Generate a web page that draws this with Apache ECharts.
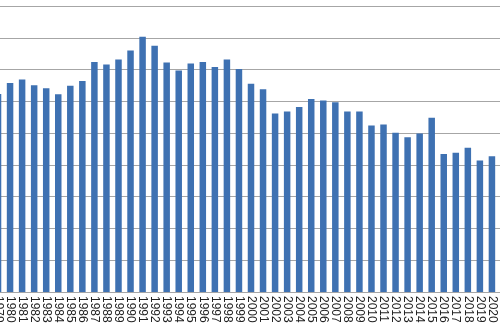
<!DOCTYPE html>
<html>
<head>
<meta charset="utf-8">
<style>html,body{margin:0;padding:0;background:#fff;overflow:hidden;width:500px;height:330px}#c{position:absolute;left:-8px;top:0;width:518px;height:330px}</style>
<script src="https://cdn.jsdelivr.net/npm/echarts@6/dist/echarts.min.js"></script>
</head>
<body>
<div id="c"></div>
<script>
var years = ['1979','1980','1981','1982','1983','1984','1985','1986','1987','1988','1989','1990','1991','1992','1993','1994','1995','1996','1997','1998','1999','2000','2001','2002','2003','2004','2005','2006','2007','2008','2009','2010','2011','2012','2013','2014','2015','2016','2017','2018','2019','2020','2021'];
var values = [62.3,65.8,66.9,65.1,64.1,62.2,64.9,66.4,72.4,71.6,73.2,76.0,80.3,77.5,72.2,69.7,71.9,72.4,70.8,73.2,70.2,65.5,63.8,56.2,56.8,58.2,60.7,60.3,59.7,56.8,56.8,52.4,52.7,50.1,48.7,49.9,54.8,43.4,43.8,45.4,41.4,42.7,null];
var yMin = 0, yMax = 90, yStep = 10;

var chart = echarts.init(document.getElementById('c'), null, {renderer:'canvas'});
chart.setOption({
  animation: false,
  backgroundColor: '#ffffff',
  grid: {left: 0, right: 0, top: 6, bottom: 38, containLabel: false},
  xAxis: {
    type: 'category',
    data: years,
    axisLine: {show: true, lineStyle: {color: '#a6a6a6', width: 1}},
    axisTick: {show: false},
    axisLabel: {interval: 0, rotate: -90, margin: 4, fontSize: 12, fontFamily: 'Liberation Sans', color: '#222'}
  },
  yAxis: {
    type: 'value',
    min: yMin, max: yMax, interval: yStep,
    axisLabel: {show: false},
    axisLine: {show: false},
    axisTick: {show: false},
    splitLine: {show: true, lineStyle: {color: '#a6a6a6', width: 1}}
  },
  series: [{
    type: 'bar',
    data: values,
    barWidth: 6.5,
    itemStyle: {color: '#3E71B2'}
  }]
});
</script>
</body>
</html>
